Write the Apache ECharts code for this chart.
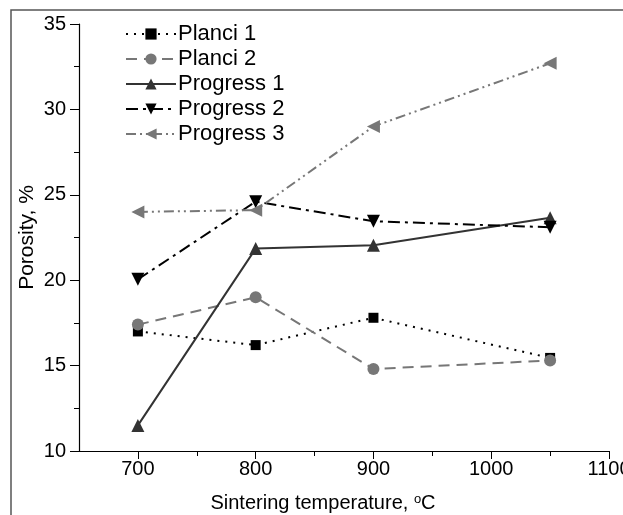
<!DOCTYPE html>
<html><head><meta charset="utf-8">
<script src="https://cdn.jsdelivr.net/npm/echarts@6/dist/echarts.min.js"></script>
<style>html,body{margin:0;padding:0;background:#fff}#c{width:623px;height:515px}</style>
</head><body><div id="c"></div>
<script>
const temps = [700, 800, 900, 1050];
const planci1 = [17.0, 16.2, 17.8, 15.45];
const planci2 = [17.4, 19.0, 14.8, 15.3];
const progress1 = [11.5, 21.85, 22.05, 23.65];
const progress2 = [20.05, 24.6, 23.45, 23.1];
const progress3 = [24.0, 24.1, 29.0, 32.7];
const xTickLabels = [700, 800, 900, 1000, 1100];
const xMinorTicks = [750, 850, 950, 1050];

const F = 'Liberation Sans, Arial, sans-serif';
function pts(arr){ return temps.map((t,i)=>[t, arr[i]]); }
function ser(name, data, color, dash, symbol, rot, size){
  return {name, type:'line', data:pts(data), symbol, symbolSize:size, symbolRotate:rot,
    itemStyle:{color}, lineStyle:{color, width:2, type:dash}, z: 3};
}
const chart = echarts.init(document.getElementById('c'));
chart.setOption({
  animation:false,
  backgroundColor:'#fff',
  graphic:[{type:'polyline', shape:{points:[[11,515],[11,10],[623,10]]}, style:{stroke:'#555', lineWidth:1.5, fill:null}}],
  grid:{left:79, right:14, top:24, bottom:64, outerBoundsMode:'none', containLabel:false},
  legend:{orient:'vertical', left:120, top:18, itemWidth:50, itemHeight:14, itemGap:3,
    textStyle:{fontFamily:F, fontSize:22, color:'#000', padding:[0,0,0,-3]},
    data:['Planci 1','Planci 2','Progress 1','Progress 2','Progress 3']},
  xAxis:[{type:'value', min:650, max:1100, interval:50,
    name:'Sintering temperature, {sup|o}C', nameLocation:'middle', nameGap:42, nameMoveOverlap:false,
    nameTextStyle:{fontFamily:F, fontSize:20, color:'#000', padding:[0,42,0,0],
      rich:{sup:{fontSize:13, verticalAlign:'top', fontFamily:F, color:'#000', padding:[0,0,7,0]}}},
    axisLine:{lineStyle:{color:'#000', width:1.2}},
    axisTick:{customValues:xTickLabels, length:8, lineStyle:{color:'#000'}},
    axisLabel:{customValues:xTickLabels, fontFamily:F, fontSize:20, color:'#000', margin:8,
      formatter: v => String(v)},
    splitLine:{show:false}},
   {type:'value', min:650, max:1100, interval:50, position:'bottom',
    axisLine:{show:false}, axisLabel:{show:false}, splitLine:{show:false},
    axisTick:{customValues:xMinorTicks, length:5, lineStyle:{color:'#000'}}}],
  yAxis:{type:'value', min:10, max:35, interval:5,
    name:'Porosity, %', nameLocation:'middle', nameGap:41, nameRotate:90, nameMoveOverlap:false,
    nameTextStyle:{fontFamily:F, fontSize:21, color:'#000'},
    axisLine:{show:true, lineStyle:{color:'#000', width:1.2}},
    axisTick:{show:true, length:9, lineStyle:{color:'#000'}},
    minorTick:{show:true, splitNumber:2, length:5, lineStyle:{color:'#000'}},
    axisLabel:{fontFamily:F, fontSize:20, color:'#000', margin:13},
    splitLine:{show:false}},
  series:[
    ser('Planci 1', planci1, '#000', [2,6], 'rect', 0, 10),
    ser('Planci 2', planci2, '#777', [11,7], 'circle', 0, 12),
    ser('Progress 1', progress1, '#333', 'solid', 'triangle', 0, 13),
    ser('Progress 2', progress2, '#000', [12,5,3,5], 'triangle', 180, 13),
    ser('Progress 3', progress3, '#777', [10,4,2,4,2,4], 'triangle', 90, 13)
  ]
});
</script></body></html>
